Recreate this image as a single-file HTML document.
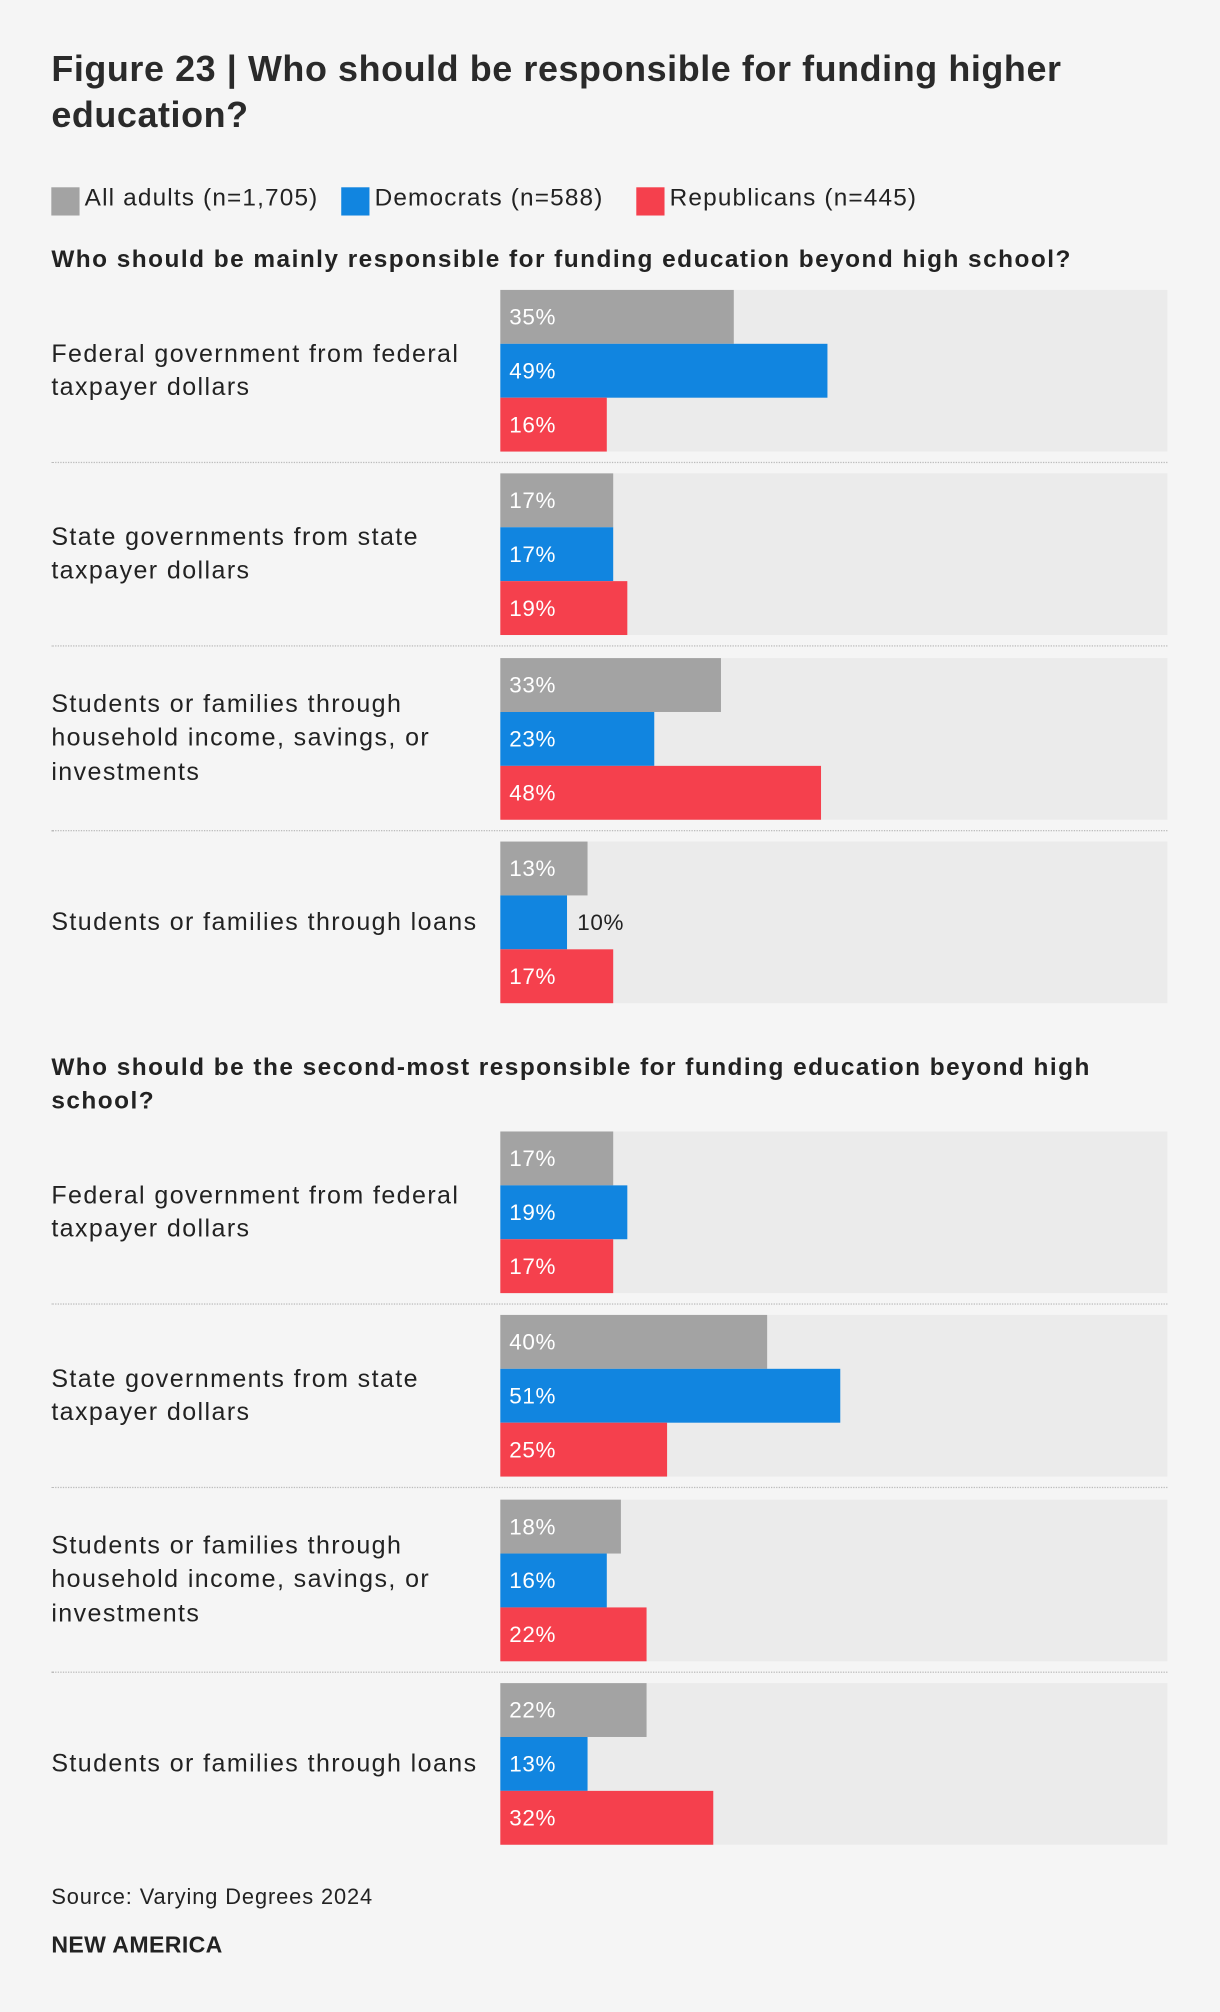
<!DOCTYPE html>
<html><head><meta charset="utf-8">
<style>
html,body{margin:0;padding:0;background:#f5f5f5;width:1220px;height:2012px;overflow:hidden}
#wrap{position:absolute;left:0;top:0;width:951px;height:1568px;transform:scale(1.28286);transform-origin:0 0;font-family:"Liberation Sans",sans-serif;color:#222}
.abs{position:absolute}
.title{left:40px;top:36px;font-size:28px;font-weight:bold;line-height:36px;width:900px;color:#2a2a2a;letter-spacing:0.45px;white-space:nowrap}
.leg{top:144px;font-size:19px;line-height:22px;letter-spacing:0.9px}
.sw{width:22px;height:22px;top:146px}
.head{left:40px;font-size:19px;font-weight:bold;line-height:26px;width:900px;letter-spacing:1.15px;white-space:nowrap}
.cat{left:40px;font-size:19.5px;line-height:26.5px;width:360px;letter-spacing:1.1px;white-space:nowrap}
.track{background:#ebebeb}
.lbl{font-size:17.5px;line-height:42px;color:#fff;letter-spacing:0.5px}
.div{left:40px;width:870px;border-top:1px dotted #bbb;height:0}
</style></head><body>
<div id="wrap">
<div class="abs title">Figure 23 | Who should be responsible for funding higher<br>education?</div>
<div class="abs sw" style="left:40px;background:#a3a3a3"></div>
<div class="abs leg" style="left:66px">All adults (n=1,705)</div>
<div class="abs sw" style="left:266px;background:#1185e0"></div>
<div class="abs leg" style="left:292px">Democrats (n=588)</div>
<div class="abs sw" style="left:496px;background:#f5404d"></div>
<div class="abs leg" style="left:522px">Republicans (n=445)</div>
<div class="abs head" style="top:190px">Who should be mainly responsible for funding education beyond high school?</div>
<div class="abs head" style="top:820px">Who should be the second-most responsible for funding education beyond high<br>school?</div>
<div class="abs" style="left:40px;top:1469px;font-size:17px;letter-spacing:0.7px">Source: Varying Degrees 2024</div>
<div class="abs" style="left:40px;top:1506px;font-size:18px;font-weight:bold;letter-spacing:0.3px">NEW AMERICA</div>
<div id="bars"></div>
</div>
<script>
const categories = ["Federal government from federal|taxpayer dollars","State governments from state|taxpayer dollars","Students or families through|household income, savings, or|investments","Students or families through loans"];
const mainAll = [35,17,33,13];
const mainDem = [49,17,23,10];
const mainRep = [16,19,48,17];
const secondAll = [17,40,18,22];
const secondDem = [19,51,16,13];
const secondRep = [17,25,22,32];
const colors = ["#a3a3a3","#1185e0","#f5404d"];
const seriesNames = ["all-adults","democrats","republicans"];
const X0 = 390, TW = 520, BH = 42;
function xScale(v){ return v/100*TW; }
const root = document.getElementById('bars');
function draw(sectionKey, top, series){
  for(let i=0;i<categories.length;i++){
    const gy = top + i*143.3;
    const tr = document.createElement('div');
    tr.className='abs track';
    tr.style.cssText=`left:${X0}px;top:${gy}px;width:${TW}px;height:${BH*3}px`;
    
    
    root.appendChild(tr);
    const lab = document.createElement('div');
    lab.className='abs cat';
    const parts = categories[i].split('|');
    lab.innerHTML = parts.join('<br>');
    lab.style.top = (gy + 63 - parts.length*26.5/2) + 'px';
    
    
    root.appendChild(lab);
    for(let s=0;s<3;s++){
      const v = series[s][i];
      const b = document.createElement('div');
      b.className='abs';
      const w = xScale(v);
      b.style.cssText=`left:${X0}px;top:${gy+s*BH}px;width:${w}px;height:${BH}px;background:${colors[s]}`;
      
      
      root.appendChild(b);
      const t = document.createElement('div');
      t.className='abs lbl';
      t.textContent = v+'%';
      const inside = w >= 60;
      t.style.left = (inside ? X0+7 : X0+w+8)+'px';
      t.style.top = (gy+s*BH)+'px';
      if(!inside) t.style.color='#222';
      
      
      root.appendChild(t);
    }
    if(i<categories.length-1){
      const d = document.createElement('div');
      d.className='abs div';
      d.style.top = (gy+134)+'px';
      
      
      root.appendChild(d);
    }
  }
}
draw('main', 226, [mainAll, mainDem, mainRep]);
draw('second', 882, [secondAll, secondDem, secondRep]);
</script>
</body></html>
